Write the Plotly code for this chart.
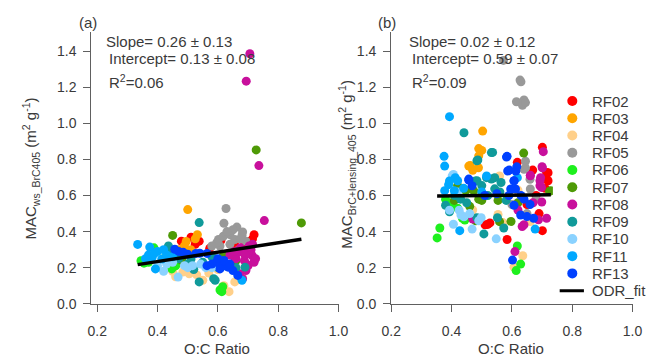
import plotly.graph_objects as go

W, H = 655, 358

series_names = ["RF02", "RF03", "RF04", "RF05", "RF06", "RF07", "RF08", "RF09", "RF10", "RF11", "RF13"]
series_colors = ["#FF0000", "#FFA500", "#FFD08A", "#999999", "#1EF01E", "#4E9A06",
                 "#C8109C", "#109A9A", "#8AD2FF", "#00A8FF", "#0040FF"]

# ---- panel (a): MAC_ws_BrC405 vs O:C ----
a_x = {
    "RF02": [0.479, 0.511, 0.538, 0.525, 0.573, 0.61, 0.655, 0.70, 0.72, 0.715, 0.68],
    "RF03": [0.50, 0.532, 0.489, 0.47, 0.51, 0.495, 0.525, 0.455],
    "RF04": [0.484, 0.505, 0.45, 0.53, 0.57, 0.60, 0.637, 0.656, 0.68, 0.62, 0.55, 0.46],
    "RF05": [0.627, 0.62, 0.663, 0.682, 0.64, 0.618, 0.602, 0.656, 0.693, 0.607, 0.596, 0.64, 0.67, 0.68, 0.65, 0.58,
             0.63, 0.675],
    "RF06": [0.345, 0.355, 0.37, 0.447, 0.42, 0.607, 0.616, 0.613, 0.46, 0.388],
    "RF07": [0.45, 0.877, 0.727, 0.618, 0.59, 0.48, 0.66],
    "RF08": [0.706, 0.694, 0.736, 0.754, 0.704, 0.714, 0.688, 0.72, 0.666, 0.65, 0.693, 0.672, 0.682,
             0.68, 0.70, 0.66, 0.71, 0.725, 0.69, 0.64, 0.70, 0.675, 0.695, 0.655, 0.715],
    "RF09": [0.538, 0.436, 0.538, 0.586, 0.511, 0.69, 0.591, 0.47, 0.55, 0.58, 0.50, 0.44, 0.62, 0.66, 0.52, 0.60],
    "RF10": [0.468, 0.489, 0.516, 0.543, 0.40, 0.43, 0.45, 0.56, 0.58, 0.42, 0.50],
    "RF11": [0.334, 0.374, 0.382, 0.414, 0.393, 0.68, 0.37, 0.40, 0.43, 0.36, 0.45, 0.42, 0.39],
    "RF13": [0.457, 0.50, 0.527, 0.564, 0.564, 0.596, 0.618, 0.634, 0.65, 0.666, 0.607, 0.47, 0.54, 0.58,
             0.62, 0.60, 0.64, 0.485],
}
a_y = {
    "RF02": [0.347, 0.369, 0.347, 0.33, 0.307, 0.35, 0.33, 0.345, 0.383, 0.36, 0.31],
    "RF03": [0.522, 0.383, 0.32, 0.30, 0.30, 0.345, 0.36, 0.27],
    "RF04": [0.176, 0.166, 0.18, 0.16, 0.17, 0.19, 0.067, 0.121, 0.15, 0.10, 0.13, 0.15],
    "RF05": [0.528, 0.446, 0.425, 0.398, 0.383, 0.374, 0.356, 0.356, 0.347, 0.32, 0.338, 0.33, 0.30, 0.38, 0.41, 0.32,
             0.40, 0.36],
    "RF06": [0.239, 0.225, 0.23, 0.193, 0.25, 0.076, 0.094, 0.067, 0.21, 0.31],
    "RF07": [0.379, 0.448, 0.853, 0.266, 0.25, 0.24, 0.24],
    "RF08": [1.386, 1.234, 0.766, 0.461, 0.32, 0.266, 0.239, 0.23, 0.284, 0.266, 0.184, 0.166, 0.139,
             0.30, 0.28, 0.25, 0.30, 0.25, 0.27, 0.27, 0.21, 0.31, 0.22, 0.29, 0.33],
    "RF09": [0.45, 0.32, 0.121, 0.139, 0.248, 0.203, 0.13, 0.25, 0.23, 0.26, 0.22, 0.29, 0.21, 0.20, 0.19, 0.20],
    "RF10": [0.148, 0.211, 0.211, 0.22, 0.21, 0.22, 0.23, 0.20, 0.20, 0.18, 0.20],
    "RF11": [0.329, 0.314, 0.257, 0.248, 0.193, 0.13, 0.27, 0.29, 0.27, 0.25, 0.26, 0.30, 0.28],
    "RF13": [0.302, 0.275, 0.279, 0.279, 0.211, 0.23, 0.211, 0.203, 0.184, 0.157, 0.193, 0.29, 0.28, 0.22,
             0.24, 0.25, 0.22, 0.285],
}

# ---- panel (b): MAC_BrC+lensing_405 vs O:C ----
b_x = {
    "RF02": [0.701, 0.618, 0.669, 0.72, 0.714, 0.715, 0.72, 0.511, 0.52, 0.584, 0.701, 0.527, 0.68, 0.65, 0.71, 0.69],
    "RF03": [0.503, 0.50, 0.49, 0.49, 0.462, 0.489, 0.457, 0.47],
    "RF04": [0.559, 0.554, 0.661, 0.636, 0.607, 0.47, 0.49, 0.57, 0.62],
    "RF05": [0.572, 0.627, 0.63, 0.615, 0.64, 0.635, 0.645, 0.645, 0.645, 0.661, 0.64, 0.66, 0.68, 0.60, 0.65],
    "RF06": [0.361, 0.352, 0.444, 0.436, 0.618, 0.629, 0.614, 0.40, 0.38, 0.42],
    "RF07": [0.639, 0.725, 0.729, 0.559, 0.597, 0.409, 0.50, 0.554, 0.42, 0.447, 0.473, 0.48, 0.62, 0.46, 0.49],
    "RF08": [0.704, 0.70, 0.701, 0.661, 0.695, 0.693, 0.698, 0.699, 0.693, 0.661, 0.64, 0.688, 0.715, 0.634,
             0.61, 0.47, 0.67, 0.62],
    "RF09": [0.441, 0.536, 0.487, 0.484, 0.479, 0.532, 0.543, 0.564, 0.516, 0.38, 0.393, 0.484, 0.507, 0.573,
             0.552, 0.581, 0.484, 0.532, 0.543, 0.50, 0.43, 0.45, 0.52, 0.56, 0.41],
    "RF10": [0.406, 0.402, 0.406, 0.468, 0.425, 0.441, 0.49, 0.393, 0.431, 0.498, 0.548, 0.42, 0.46],
    "RF11": [0.393, 0.375, 0.377, 0.393, 0.412, 0.516, 0.377, 0.409, 0.427, 0.677, 0.618, 0.42, 0.44, 0.50, 0.39],
    "RF13": [0.584, 0.582, 0.591, 0.616, 0.607, 0.612, 0.596, 0.457, 0.468, 0.607, 0.629, 0.65, 0.672, 0.602,
             0.607, 0.613, 0.586, 0.457, 0.63, 0.66, 0.59, 0.64, 0.55, 0.51],
}
b_y = {
    "RF02": [0.867, 0.784, 0.741, 0.726, 0.69, 0.727, 0.682, 0.438, 0.44, 0.356, 0.405, 0.448, 0.60, 0.55, 0.64, 0.50],
    "RF03": [0.957, 0.85, 0.86, 0.82, 0.766, 0.754, 0.763, 0.74],
    "RF04": [0.708, 0.495, 0.456, 0.266, 0.203, 0.52, 0.60, 0.45, 0.63],
    "RF05": [1.349, 1.24, 1.23, 1.12, 1.13, 1.10, 1.115, 0.79, 0.753, 0.636, 0.745, 0.69, 0.58, 0.55, 0.50],
    "RF06": [0.42, 0.365, 0.464, 0.474, 0.32, 0.22, 0.184, 0.55, 0.58, 0.53],
    "RF07": [0.835, 0.623, 0.627, 0.455, 0.456, 0.573, 0.573, 0.573, 0.655, 0.627, 0.627, 0.46, 0.56, 0.54, 0.58],
    "RF08": [0.843, 0.76, 0.753, 0.712, 0.699, 0.654, 0.645, 0.564, 0.682, 0.709, 0.438, 0.465, 0.474, 0.428,
             0.289, 0.47, 0.56, 0.52],
    "RF09": [0.948, 0.839, 0.797, 0.793, 0.681, 0.838, 0.699, 0.672, 0.699, 0.546, 0.51, 0.477, 0.387, 0.42,
             0.477, 0.573, 0.682, 0.691, 0.637, 0.655, 0.58, 0.56, 0.60, 0.62, 0.60],
    "RF10": [0.717, 0.709, 0.441, 0.414, 0.519, 0.482, 0.46, 0.519, 0.492, 0.477, 0.36, 0.62, 0.50],
    "RF11": [1.037, 0.817, 0.763, 0.681, 0.699, 0.708, 0.627, 0.627, 0.405, 0.414, 0.699, 0.682, 0.64, 0.62, 0.66],
    "RF13": [0.817, 0.813, 0.741, 0.759, 0.681, 0.636, 0.636, 0.685, 0.654, 0.546, 0.492, 0.483, 0.474, 0.242,
             0.682, 0.736, 0.736, 0.691, 0.60, 0.55, 0.60, 0.58, 0.61, 0.60],
}

# ODR fit results
fit_slope = [0.26, 0.02]
fit_slope_err = [0.13, 0.12]
fit_intercept = [0.13, 0.59]
fit_intercept_err = [0.08, 0.07]
fit_r2 = [0.06, 0.09]

x_ticks = [0.2, 0.4, 0.6, 0.8, 1.0]
y_ticks = [0.0, 0.2, 0.4, 0.6, 0.8, 1.0, 1.2, 1.4]

TXT = "#3a3a3a"
LINE = "#606060"
FONT = "Arial, Liberation Sans, sans-serif"

fig = go.Figure()

panels = [(a_x, a_y, "x", "y"), (b_x, b_y, "x2", "y2")]
for p, (dx, dy, xa, ya) in enumerate(panels):
    for name, col in zip(series_names, series_colors):
        fig.add_trace(go.Scatter(
            x=dx[name], y=dy[name], mode="markers", name=name,
            marker=dict(color=col, size=9, line=dict(width=0)),
            xaxis=xa, yaxis=ya, showlegend=False))
    allx = [v for n in series_names for v in dx[n]]
    x0, x1 = min(allx), max(allx)
    fig.add_trace(go.Scatter(
        x=[x0, x1],
        y=[fit_intercept[p] + fit_slope[p] * x0, fit_intercept[p] + fit_slope[p] * x1],
        mode="lines", line=dict(color="black", width=3.5), name="ODR_fit",
        xaxis=xa, yaxis=ya, showlegend=False))

# custom legend drawn on a hidden axis pair (row index = entry order)
legend_labels = series_names + ["ODR_fit"]
idx = list(range(len(series_names)))
nL = len(series_names)
fig.add_trace(go.Scatter(
    x=[20] * nL, y=idx, mode="markers",
    marker=dict(color=series_colors, size=10), xaxis="x3", yaxis="y3",
    showlegend=False, cliponaxis=False, hoverinfo="skip"))
fig.add_trace(go.Scatter(
    x=[7, 32], y=[nL, nL], mode="lines", line=dict(color="black", width=3),
    xaxis="x3", yaxis="y3", showlegend=False, cliponaxis=False, hoverinfo="skip"))

def px_x(px):
    return px / W

def px_y(py):
    return (H - py) / H

ydom = [px_y(310.7), px_y(33)]
axis_common = dict(showgrid=False, zeroline=False, showline=True, linecolor=LINE, linewidth=1.3,
                   ticks="outside", ticklen=7, tickwidth=1.3, tickcolor=LINE,
                   tickfont=dict(size=14, color=TXT, family=FONT), tickformat=".1f")

fig.update_layout(
    width=W, height=H, margin=dict(l=0, r=0, t=0, b=0),
    paper_bgcolor="white", plot_bgcolor="white",
    font=dict(family=FONT, color=TXT),
    showlegend=False,
    xaxis=dict(domain=[px_x(84), px_x(339)], range=[0.1807, 1.0005], tickvals=x_ticks,
               anchor="y", ticklabelstandoff=7, **axis_common),
    yaxis=dict(domain=ydom, range=[0, 1.505], tickvals=y_ticks, anchor="x", ticklabelstandoff=4,
               **axis_common),
    xaxis2=dict(domain=[px_x(393.3), px_x(642.3)], range=[0.2, 1.0005], tickvals=x_ticks,
                anchor="y2", ticklabelstandoff=7, **axis_common),
    yaxis2=dict(domain=ydom, range=[0, 1.505], tickvals=y_ticks, anchor="x2", ticklabelstandoff=4,
                **axis_common),
    xaxis3=dict(domain=[px_x(560), 1.0], range=[0, 95], visible=False, anchor="y3"),
    yaxis3=dict(domain=[px_y(306.1), px_y(94.5)], range=[11.5, -0.5], visible=False, anchor="x3"),
)

ann = []
def add_text(text, px, py, xanchor="left", size=15, angle=0, yanchor="middle"):
    ann.append(dict(text=text, x=px_x(px), y=px_y(py), xref="paper", yref="paper",
                    xanchor=xanchor, yanchor=yanchor, showarrow=False, textangle=angle,
                    font=dict(size=size, color=TXT, family=FONT)))

# legend labels
for i, lab in enumerate(legend_labels):
    ann.append(dict(text=lab, x=38, y=i, xref="x3", yref="y3", xanchor="left", yanchor="middle",
                    showarrow=False, font=dict(size=15, color=TXT, family=FONT)))

add_text("(a)", 80, 23, "center")
add_text("(b)", 389, 23, "center")
for p, (sx, ix, rx) in enumerate([(96.5, 100, 100.5), (409, 412.5, 413)]):
    add_text(f"Slope= {fit_slope[p]:.2f} ± {fit_slope_err[p]:.2f}", sx, 42)
    add_text(f"Intercept= {fit_intercept[p]:.2f} ± {fit_intercept_err[p]:.2f}", ix, 60)
    add_text(f"R<sup>2</sup>={fit_r2[p]:.2f}", rx, 83)

add_text("MAC<sub>ws_BrC405</sub> (m<sup>2</sup> g<sup>-1</sup>)", 21, 172, "center", 15, -90)
add_text("MAC<sub>BrC+lensing_405</sub> (m<sup>2</sup> g<sup>-1</sup>)", 347, 168, "center", 15, -90)
add_text("O:C Ratio", 214, 346, "center", yanchor="top")
add_text("O:C Ratio", 517, 346, "center", yanchor="top")
fig.update_layout(annotations=ann)

fig.write_html("out.html")
